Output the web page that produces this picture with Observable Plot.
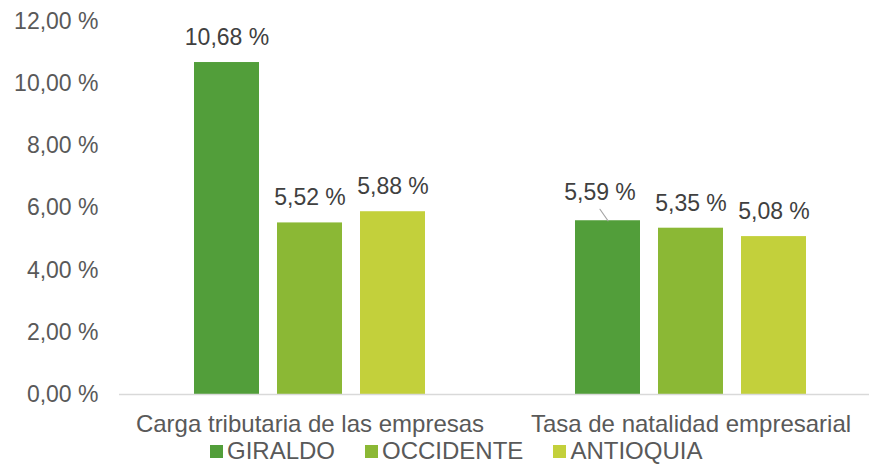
<!DOCTYPE html>
<html>
<head>
<meta charset="utf-8">
<script src="https://cdn.jsdelivr.net/npm/d3@7"></script>
<script src="https://cdn.jsdelivr.net/npm/@observablehq/plot@0.6"></script>
<style>
  html, body { margin: 0; padding: 0; background: #fff; }
  #wrap { position: relative; width: 869px; height: 466px; font-family: "Liberation Sans", Arial, sans-serif; }
  #legend { position: absolute; top: 439px; left: 210px; display: flex; align-items: center; font-size: 24px; line-height: 24px; color: #595959; }
  #legend .item { display: flex; align-items: center; margin-right: 30px; }
  #legend .sw { width: 13px; height: 13px; margin-right: 4px; }
</style>
</head>
<body>
<div id="wrap"><div id="chart"></div><div id="legend"></div></div>
<script>
const categories = ["Carga tributaria de las empresas", "Tasa de natalidad empresarial"];
const series = ["GIRALDO", "OCCIDENTE", "ANTIOQUIA"];
const giraldo = [10.68, 5.59];
const occidente = [5.52, 5.35];
const antioquia = [5.88, 5.08];
const colors = ["#529e3a", "#8bb835", "#c3d03b"];
const yTicks = [0, 2, 4, 6, 8, 10, 12];

const values = [giraldo, occidente, antioquia];
const data = [];
categories.forEach((c, i) => series.forEach((s, j) => data.push({category: c, series: s, value: values[j][i]})));
const fmt = v => v.toFixed(2).replace(".", ",") + " %";

// label moved with a leader line (GIRALDO, Tasa de natalidad empresarial)
const isMoved = d => d.series === "GIRALDO" && d.category === categories[1];

const chart = Plot.plot({
  width: 869,
  height: 438,
  marginLeft: 118,
  marginRight: 0,
  marginTop: 21,
  marginBottom: 44,
  style: {fontFamily: "Liberation Sans, Arial, sans-serif", background: "#fff"},
  fx: {domain: categories, range: [118, 881], paddingInner: 0, paddingOuter: 0, label: null},
  x: {domain: series, paddingInner: 0.214, paddingOuter: 0.875, axis: null},
  y: {domain: [0, 12], label: null},
  color: {domain: series, range: colors},
  marks: [
    Plot.barY(data, {fx: "category", x: "series", y: "value", fill: "series"}),
    Plot.ruleY([0], {stroke: "#d9d9d9", strokeWidth: 1.3}),
    Plot.text(data.filter(d => !isMoved(d)), {fx: "category", x: "series", y: "value", text: d => fmt(d.value), dy: -25, fontSize: 23, fill: "#404040"}),
    Plot.text(data.filter(isMoved), {fx: "category", x: "series", y: "value", text: d => fmt(d.value), dx: -8, dy: -28, fontSize: 23, fill: "#404040"}),
    Plot.vector(data.filter(isMoved), {fx: "category", x: "series", y: "value", length: 14, rotate: -35, anchor: "start", shape: "spike", r: 0.01, stroke: "#a6a6a6", fill: "none", strokeWidth: 1.2}),
    Plot.axisY({ticks: yTicks, tickFormat: fmt, tickSize: 0, tickPadding: 21, fontSize: 23, fill: "#595959", label: null}),
    Plot.axisFx({anchor: "bottom", tickSize: 0, tickPadding: 20, fontSize: 24, fill: "#595959", label: null})
  ]
});
document.getElementById("chart").appendChild(chart);

const legend = document.getElementById("legend");
series.forEach((s, i) => {
  const it = document.createElement("div");
  it.className = "item";
  it.innerHTML = `<span class="sw" style="background:${colors[i]}"></span><span>${s}</span>`;
  legend.appendChild(it);
});
</script>
</body>
</html>
